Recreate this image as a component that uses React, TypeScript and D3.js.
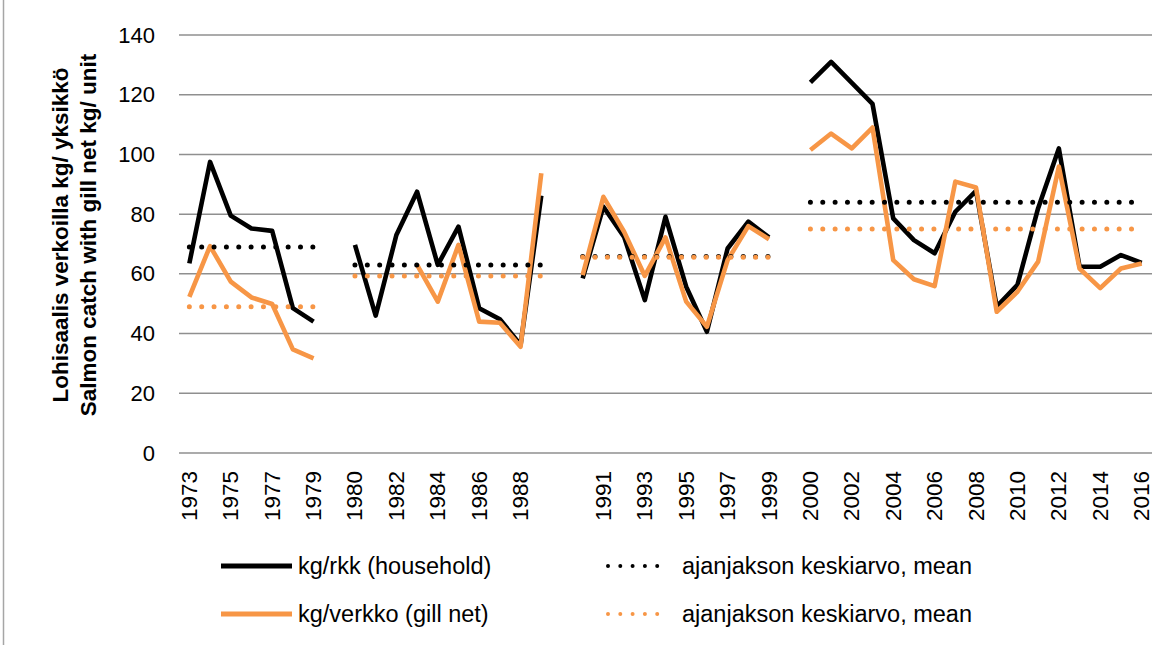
import React from "react";
import * as d3 from "d3";

// ---- DATA ----
const categories: string[] = [
  "1973", "1974", "1975", "1976", "1977", "1978", "1979", "",
  "1980", "1981", "1982", "1983", "1984", "1985", "1986", "1987", "1988", "1989", "",
  "1990", "1991", "1992", "1993", "1994", "1995", "1996", "1997", "1998", "1999", "",
  "2000", "2001", "2002", "2003", "2004", "2005", "2006", "2007", "2008",
  "2009", "2010", "2011", "2012", "2013", "2014", "2015", "2016",
];

const household: (number | null)[] = [
  63.5, 97.5, 79.5, 75.2, 74.4, 48.5, 44, null,
  69.7, 46, 73, 87.5, 63, 75.8, 48.5, 44.8, 36.2, 86.2, null,
  58.5, 82.5, 72.4, 51.2, 79.1, 55.7, 40.6, 68.5, 77.5, 72.2, null,
  124.1, 131, 124, 116.9, 78.6, 71.3, 66.9, 80.8, 87.8,
  49, 56.3, 82, 102, 62.4, 62.4, 66.3, 63.7,
];

const gillNet: (number | null)[] = [
  52.3, 69.3, 57.4, 52.1, 49.9, 34.7, 31.7, null,
  null, null, null, 63, 50.7, 69.7, 44, 43.6, 35.6, 93.7, null,
  59.6, 85.8, 74.1, 59.3, 72.2, 50.7, 42.3, 64.6, 76, 71.6, null,
  101.5, 107, 102, 109, 64.6, 58.2, 55.9, 90.9, 88.9,
  47.3, 54, 64.1, 95.9, 61.8, 55.2, 61.8, 63.5,
];

const periodStarts: string[] = ["1973", "1980", "1990", "2000"];
const periodEnds: string[] = ["1979", "1989", "1999", "2016"];
const meanHousehold: number[] = [69, 63, 65.8, 84];
const meanGillNet: number[] = [49, 59.3, 65.6, 75];

const yTicks: number[] = [0, 20, 40, 60, 80, 100, 120, 140];

const yTitle1 = "Lohisaalis verkoilla kg/ yksikkö";
const yTitle2 = "Salmon catch with gill net kg/ unit";
const legendLabels: string[] = [
  "kg/rkk (household)",
  "ajanjakson keskiarvo, mean",
  "kg/verkko (gill net)",
  "ajanjakson keskiarvo, mean",
];

// ---- STYLE ----
const W = 1171;
const H = 645;
const BLACK = "#000000";
const ORANGE = "#F79646";
const GRID = "#8f8f8f";
const FONT = "'Liberation Sans', Arial, sans-serif";
const DOT = "0 12.35";

export default function App() {
  const idx = d3.range(categories.length);
  const x = d3.scalePoint<number>().domain(idx).range([179, 1152]).padding(0.5);
  const y = d3.scaleLinear().domain([0, 140]).range([453, 35]);

  const line = d3
    .line<number | null>()
    .defined((d) => d !== null)
    .x((_, i) => x(i) as number)
    .y((d) => y(d as number));

  const meanSeg = (v: number, p: number) => {
    const i0 = categories.indexOf(periodStarts[p]);
    const i1 = categories.indexOf(periodEnds[p]);
    return d3.line<number>().x((i) => x(i) as number).y(() => y(v))([i0, i1]) as string;
  };

  const legendRows = [
    { y: 566, items: [
      { x0: 221, x1: 292, color: BLACK, dotted: false, label: legendLabels[0] },
      { x0: 606, x1: 668, color: BLACK, dotted: true, label: legendLabels[1] },
    ] },
    { y: 614, items: [
      { x0: 221, x1: 292, color: ORANGE, dotted: false, label: legendLabels[2] },
      { x0: 606, x1: 668, color: ORANGE, dotted: true, label: legendLabels[3] },
    ] },
  ];

  return (
    <svg
      width={W}
      height={H}
      style={{ position: "absolute", left: 0, top: 0, background: "#fff" }}
      fontFamily={FONT}
    >
      <rect x={0} y={0} width={W} height={H} fill="#fff" />
      <line x1={3.5} x2={3.5} y1={0} y2={H} stroke="#a6a6a6" strokeWidth={1.5} />

      {/* gridlines */}
      {yTicks.map((t) => (
        <line key={"g" + t} x1={179} x2={1152} y1={y(t)} y2={y(t)} stroke={GRID} strokeWidth={1.5} />
      ))}

      {/* y tick labels */}
      {yTicks.map((t) => (
        <text key={"yt" + t} x={155} y={y(t)} textAnchor="end" dominantBaseline="central" fontSize={22} fill="#000">
          {t}
        </text>
      ))}

      {/* x tick labels */}
      {idx.filter((i) => i % 2 === 0 && categories[i] !== "").map((i) => (
        <text
          key={"xt" + i}
          transform={`translate(${x(i)},471) rotate(-90)`}
          textAnchor="end"
          dominantBaseline="central"
          fontSize={22.5}
          fill="#000"
        >
          {categories[i]}
        </text>
      ))}

      {/* y axis title */}
      <g transform="translate(60,235) rotate(-90)">
        <text textAnchor="middle" dominantBaseline="central" fontSize={22.5} fontWeight="bold" fill="#000">
          {yTitle1}
        </text>
        <text y={28} textAnchor="middle" dominantBaseline="central" fontSize={22.5} fontWeight="bold" fill="#000">
          {yTitle2}
        </text>
      </g>

      {/* series */}
      <path d={line(household) as string} fill="none" stroke={BLACK} strokeWidth={4.6} strokeLinejoin="round" />
      <path d={line(gillNet) as string} fill="none" stroke={ORANGE} strokeWidth={4.6} strokeLinejoin="round" />
      {meanHousehold.map((v, p) => (
        <path key={"mh" + p} d={meanSeg(v, p)} fill="none" stroke={BLACK} strokeWidth={5} strokeDasharray={DOT} strokeLinecap="round" />
      ))}
      {meanGillNet.map((v, p) => (
        <path key={"mg" + p} d={meanSeg(v, p)} fill="none" stroke={ORANGE} strokeWidth={5} strokeDasharray={DOT} strokeLinecap="round" />
      ))}

      {/* legend */}
      {legendRows.map((row, r) =>
        row.items.map((it, k) => (
          <g key={"lg" + r + k}>
            {it.dotted ? (
              <line x1={it.x0 + 2} x2={it.x1} y1={row.y} y2={row.y} stroke={it.color} strokeWidth={4} strokeDasharray="0 12.3" strokeLinecap="round" />
            ) : (
              <line x1={it.x0} x2={it.x1} y1={row.y} y2={row.y} stroke={it.color} strokeWidth={5} />
            )}
            <text x={it.x1 + (it.dotted ? 14 : 6)} y={row.y} dominantBaseline="central" fontSize={23.5} fill="#000">
              {it.label}
            </text>
          </g>
        ))
      )}
    </svg>
  );
}
